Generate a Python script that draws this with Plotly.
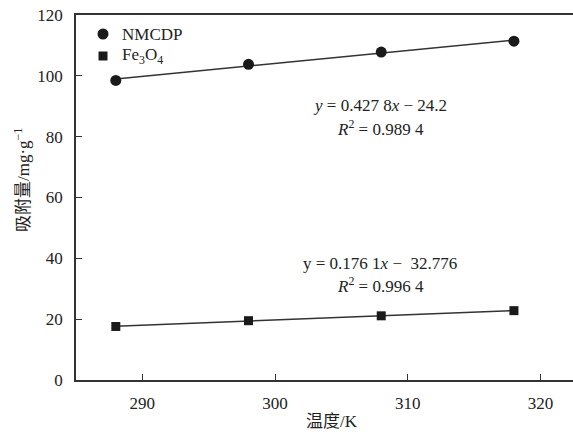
import numpy as np
import plotly.graph_objects as go

# ---- data ----
temperature = [288, 298, 308, 318]
nmcdp = [98.5, 103.8, 107.8, 111.4]
fe3o4 = [17.6, 19.5, 21.1, 22.8]
x_ticks = [290, 300, 310, 320]
y_ticks = [0, 20, 40, 60, 80, 100, 120]
legend_names = ["NMCDP", "Fe<sub>3</sub>O<sub>4</sub>"]

FONT = "Liberation Serif, Times New Roman, Noto Sans CJK SC, serif"
INK = "#222222"
MARK = "#1a1a1a"

L, T, B = 76, 15, 380
W = 573 - L
H = B - T


def px(xp):
    return (xp - L) / W


def py(yp):
    return 1 - (yp - T) / H


fig = go.Figure()


def fit_line(xs, ys):
    k, b = np.polyfit(xs, ys, 1)
    xx = [xs[0], xs[-1]]
    return xx, [k * v + b for v in xx]


for ys in (nmcdp, fe3o4):
    lx, ly = fit_line(temperature, ys)
    fig.add_trace(go.Scatter(x=lx, y=ly, mode="lines", showlegend=False,
                             line=dict(color="#333333", width=1.5), hoverinfo="skip"))

fig.add_trace(go.Scatter(x=temperature, y=nmcdp, mode="markers", name=legend_names[0],
                         showlegend=False,
                         marker=dict(symbol="circle", size=11, color=MARK)))
fig.add_trace(go.Scatter(x=temperature, y=fe3o4, mode="markers", name=legend_names[1],
                         showlegend=False,
                         marker=dict(symbol="square", size=9, color=MARK)))

axis_common = dict(
    showgrid=False, zeroline=False, showline=True, linecolor="#333333", linewidth=1.5,
    ticks="inside", ticklen=6, tickwidth=1.2, tickcolor="#333333",
    tickfont=dict(family=FONT, size=17, color=INK),
)

fig.update_xaxes(range=[285, 322.45], tickvals=x_ticks, mirror=True,
                 ticklabelstandoff=7, **axis_common)
fig.update_yaxes(range=[0, 120], tickvals=y_ticks, mirror=False,
                 ticklabelstandoff=8, **axis_common)

annots = [
    dict(x=380, y=105, text="<i>y</i> = 0.427 8<i>x</i> \u2212 24.2"),
    dict(x=380, y=128, text="<i>R</i><sup>2</sup> = 0.989 4"),
    dict(x=380, y=263, text="y = 0.176 1<i>x</i> \u2212\u00a0 32.776"),
    dict(x=380, y=285, text="<i>R</i><sup>2</sup> = 0.996 4"),
]
for a in annots:
    fig.add_annotation(x=px(a["x"]), y=py(a["y"]), xref="paper", yref="paper",
                       text=a["text"], showarrow=False, xanchor="center", yanchor="middle",
                       font=dict(family=FONT, size=17, color=INK))

# legend (drawn manually for exact spacing)
leg_y = [34, 56]
fig.add_shape(type="circle", xref="paper", yref="paper",
              x0=px(103 - 5.5), x1=px(103 + 5.5), y0=py(leg_y[0] + 5.5), y1=py(leg_y[0] - 5.5),
              fillcolor=MARK, line=dict(width=0))
fig.add_shape(type="rect", xref="paper", yref="paper",
              x0=px(103 - 4.5), x1=px(103 + 4.5), y0=py(leg_y[1] + 4.5), y1=py(leg_y[1] - 4.5),
              fillcolor=MARK, line=dict(width=0))
for name, yy in zip(legend_names, leg_y):
    fig.add_annotation(x=px(120), y=py(yy), xref="paper", yref="paper",
                       text=name, showarrow=False, xanchor="left", yanchor="middle",
                       font=dict(family=FONT, size=17, color=INK))

fig.add_annotation(x=px(332), y=py(421), xref="paper", yref="paper",
                   text="温度/K", showarrow=False, xanchor="center", yanchor="middle",
                   font=dict(family=FONT, size=17, color=INK))
fig.add_annotation(x=px(22), y=py(180), xref="paper", yref="paper",
                   text="吸附量/mg·g<sup>\u22121</sup>", textangle=-90, showarrow=False,
                   xanchor="center", yanchor="middle",
                   font=dict(family=FONT, size=17, color=INK))

fig.update_layout(
    width=573, height=432,
    margin=dict(l=L, r=0, t=T, b=432 - B),
    paper_bgcolor="white", plot_bgcolor="white",
    showlegend=False,
)

fig.write_html("out.html")
